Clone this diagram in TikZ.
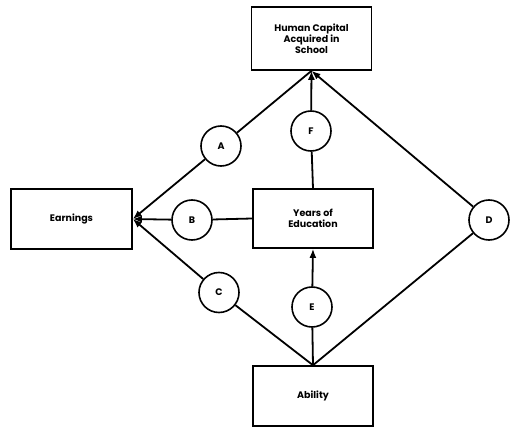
\documentclass[tikz,border=0pt]{standalone}
\usepackage{fontspec}
\setmainfont{Poppins}
\usepackage{tikz}
\usetikzlibrary{arrows.meta}

\begin{document}
\begin{tikzpicture}[x=1pt,y=-1pt,line width=1.8pt,
  box/.style={draw,rectangle,align=center,inner sep=0pt,line width=1.6pt,
    minimum width=120pt,minimum height=60pt,font=\bfseries\fontsize{9.5}{11}\selectfont},
  path/.style={draw,circle,minimum size=40pt,inner sep=0pt,line width=1.6pt,font=\bfseries\fontsize{9.5}{11}\selectfont},
  arr/.style={-{Latex[length=9pt,width=7pt]}}]
\useasboundingbox (0,0) rectangle (512,428);
% boxes
\node[box,minimum height=63pt] (hc) at (311.5,38.5) {Human Capital\\Acquired in\\School};
\node[box,minimum height=59pt] (yrs) at (313,218.5) {Years of\\Education};
\node[box] (abil) at (313,396) {Ability};
\node[box,minimum width=121pt] (earn) at (71.5,219) {Earnings};
% path labels
\node[path] (A) at (221,146) {A};
\node[path] (B) at (192,220) {B};
\node[path] (C) at (219,292.5) {C};
\node[path] (D) at (489,220) {D};
\node[path] (E) at (312,307) {E};
\node[path] (F) at (311,131) {F};
% connectors
\draw (hc.south) -- (A);
\draw[arr] (A) -- (earn.east);
\draw (yrs.west) -- (B);
\draw[arr] (B) -- (earn.east);
\draw (abil.north) -- (C);
\draw[arr] (C) -- (earn.east);
\draw (abil.north) -- (E);
\draw[arr] (E) -- (yrs.south);
\draw (yrs.north) -- (F);
\draw[arr] (F) -- (hc.south);
\draw (abil.north) -- (D);
\draw[arr] (D) -- (hc.south);
\end{tikzpicture}
\end{document}
